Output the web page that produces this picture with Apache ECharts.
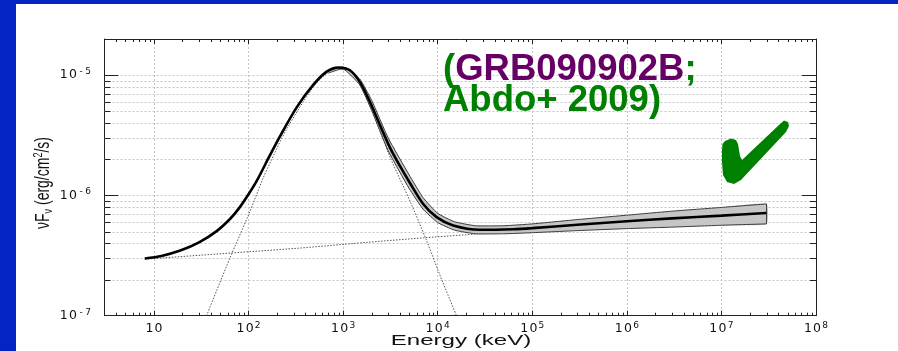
<!DOCTYPE html>
<html>
<head>
<meta charset="utf-8">
<script src="https://cdn.jsdelivr.net/npm/echarts@6/dist/echarts.min.js"></script>
<style>
  html, body { margin: 0; padding: 0; background: #fff; }
  #wrap { position: relative; width: 898px; height: 351px; overflow: hidden; background: #fff; }
  #chart { position: absolute; left: 0; top: 0; width: 898px; height: 351px; }
  .band { position: absolute; background: #0424c4; }
</style>
</head>
<body>
<div id="wrap">
  <div id="chart"></div>
  <div class="band" style="left:0;top:0;width:898px;height:4px"></div>
  <div class="band" style="left:0;top:0;width:16px;height:351px"></div>
</div>
<script>
// Energy axis (keV) and flux axis (erg/cm^2/s) limits
const energyMin = 3, energyMax = 1e8;
const fluxMin = 1e-7, fluxMax = 2e-5;

// Total model: Band function + extra power law
const totalEnergy = [8, 12, 19, 30, 46, 64, 81, 103, 122, 168, 215, 323, 483, 670, 890, 1180, 1500, 1920, 2450, 3130, 4000, 5090, 7030, 9740, 14600, 27900, 62800, 1e5, 3e5, 1e6, 3e6, 1e7, 3e7];
const totalFlux = [2.99e-7, 3.14e-7, 3.48e-7, 4.07e-7, 5.05e-7, 6.4e-7, 8.0e-7, 1.06e-6, 1.32e-6, 2.15e-6, 3.1e-6, 5.4e-6, 8.3e-6, 1.07e-5, 1.16e-5, 1.10e-5, 8.8e-6, 6.0e-6, 3.85e-6, 2.5e-6, 1.75e-6, 1.27e-6, 8.5e-7, 6.6e-7, 5.62e-7, 5.18e-7, 5.24e-7, 5.35e-7, 5.7e-7, 6.1e-7, 6.45e-7, 6.8e-7, 7.15e-7];

// Band component alone
const bandEnergy = [36, 64, 100, 143, 168, 250, 480, 670, 890, 1180, 1500, 1920, 2450, 3120, 5090, 7640, 10500, 15800];
const bandFlux = [1.0e-7, 3.06e-7, 6.9e-7, 1.4e-6, 1.85e-6, 3.5e-6, 7.9e-6, 1.03e-5, 1.12e-5, 1.06e-5, 8.4e-6, 5.6e-6, 3.45e-6, 2.1e-6, 9.0e-7, 4.2e-7, 2.2e-7, 1.0e-7];

// Power-law component alone
const plEnergy = [8, 350, 2450, 7030, 3e7];
const plFlux = [2.95e-7, 3.65e-7, 4.16e-7, 4.44e-7, 7.15e-7];

// Confidence region of the total model
const confEnergy = [700, 1000, 1500, 2000, 3000, 5000, 7000, 1e4, 1.5e4, 2.5e4, 5e4, 1e5, 3e5, 1e6, 3e6, 1e7, 3e7];
const confUpper = [1.08e-5, 1.17e-5, 9.3e-6, 6.2e-6, 3.0e-6, 1.48e-6, 9.6e-7, 7.1e-7, 6.05e-7, 5.6e-7, 5.6e-7, 5.8e-7, 6.3e-7, 6.85e-7, 7.4e-7, 7.95e-7, 8.5e-7];
const confLower = [1.04e-5, 1.13e-5, 8.3e-6, 5.1e-6, 2.35e-6, 1.14e-6, 7.7e-7, 5.95e-7, 5.15e-7, 4.8e-7, 4.8e-7, 4.9e-7, 5.1e-7, 5.3e-7, 5.45e-7, 5.65e-7, 5.8e-7];

// Minor tick positions (2..9 within each decade)
const xMinorTicks = [];
for (let k = 0; k < 8; k++) for (let m = 2; m <= 9; m++) {
  const v = m * Math.pow(10, k);
  if (v > energyMin && v < energyMax) xMinorTicks.push(v);
}
const yMinorTicks = [];
for (let k = -7; k <= -5; k++) for (let m = 2; m <= 9; m++) {
  const v = m * Math.pow(10, k);
  if (v > fluxMin * 1.0001 && v < fluxMax * 0.9999) yMinorTicks.push(v);
}

const zip = (a, b) => a.map((v, i) => [v, b[i]]);
const AX = '#222';
const GRID = '#c4c4c4';

// "10" followed by a superscript exponent, one token per character
function powerLabel(v) {
  const e = Math.log10(v);
  const r = Math.round(e);
  if (Math.abs(e - r) > 1e-6) return '';
  let txt = '{d|1}{d|0}';
  if (r !== 1) String(r).split('').forEach(c => { txt += '{s|' + c + '}'; });
  return txt;
}
const labelRich = {
  d: { fontFamily: 'DejaVu Sans', fontSize: 12.5, width: 9.2, align: 'center', color: '#111', lineHeight: 16 },
  s: { fontFamily: 'DejaVu Sans', fontSize: 9, width: 7, align: 'center', color: '#111', lineHeight: 9, verticalAlign: 'top' }
};

const chart = echarts.init(document.getElementById('chart'), null, { renderer: 'canvas' });

const option = {
  animation: false,
  backgroundColor: 'transparent',
  grid: { left: 104.5, top: 39, right: 82, bottom: 35.3, containLabel: false, outerBoundsMode: 'none' },
  xAxis: [
    {
      type: 'log', logBase: 10, min: energyMin, max: energyMax, position: 'bottom',
      axisLine: { lineStyle: { color: AX, width: 1 } },
      axisTick: { inside: true, length: 5, lineStyle: { color: AX } },
      axisLabel: { formatter: powerLabel, rich: labelRich, margin: 5, showMinLabel: false },
      splitLine: { show: true, lineStyle: { color: GRID, type: [2, 2], width: 1 } }
    },
    {
      type: 'log', logBase: 10, min: energyMin, max: energyMax, position: 'top',
      axisLine: { lineStyle: { color: AX, width: 1 } },
      axisTick: { inside: true, length: 5, lineStyle: { color: AX } },
      axisLabel: { show: false }, splitLine: { show: false }
    }
  ],
  yAxis: [
    {
      type: 'log', logBase: 10, min: fluxMin, max: fluxMax, position: 'left',
      axisLine: { lineStyle: { color: AX, width: 1 } },
      axisTick: { inside: true, length: 14, lineStyle: { color: AX } },
      axisLabel: { formatter: powerLabel, rich: labelRich, margin: 13, showMaxLabel: false },
      splitLine: { show: true, lineStyle: { color: GRID, type: [2, 2], width: 1 } }
    },
    {
      type: 'log', logBase: 10, min: fluxMin, max: fluxMax, position: 'right',
      axisLine: { lineStyle: { color: AX, width: 1 } },
      axisTick: { inside: true, length: 14, lineStyle: { color: AX } },
      axisLabel: { show: false }, splitLine: { show: false }
    }
  ],
  series: [
    // minor grid lines and ticks on the flux axis
    {
      type: 'custom', xAxisIndex: 0, yAxisIndex: 0, silent: true, z: 1,
      data: yMinorTicks.map(v => [energyMin, v]),
      renderItem: (params, api) => {
        const v = api.value(1);
        const l = api.coord([energyMin, v]);
        const r = api.coord([energyMax, v]);
        const y = Math.round(l[1]) + 0.5;
        return {
          type: 'group', children: [
            { type: 'line', shape: { x1: l[0], y1: y, x2: r[0], y2: y }, style: { stroke: GRID, lineWidth: 1, lineDash: [2, 2] } },
            { type: 'line', shape: { x1: l[0], y1: y, x2: l[0] + 6, y2: y }, style: { stroke: AX, lineWidth: 1 } },
            { type: 'line', shape: { x1: r[0] - 6, y1: y, x2: r[0], y2: y }, style: { stroke: AX, lineWidth: 1 } }
          ]
        };
      }
    },
    // minor ticks on the energy axis
    {
      type: 'custom', xAxisIndex: 0, yAxisIndex: 0, silent: true, z: 1,
      data: xMinorTicks.map(v => [v, fluxMin]),
      renderItem: (params, api) => {
        const v = api.value(0);
        const b = api.coord([v, fluxMin]);
        const t = api.coord([v, fluxMax]);
        const x = Math.round(b[0]) + 0.5;
        return {
          type: 'group', children: [
            { type: 'line', shape: { x1: x, y1: b[1], x2: x, y2: b[1] - 3 }, style: { stroke: AX, lineWidth: 1 } },
            { type: 'line', shape: { x1: x, y1: t[1], x2: x, y2: t[1] + 3 }, style: { stroke: AX, lineWidth: 1 } }
          ]
        };
      }
    },
    // power-law component
    {
      type: 'line', xAxisIndex: 0, yAxisIndex: 0, data: zip(plEnergy, plFlux),
      symbol: 'none', silent: true, z: 2,
      lineStyle: { color: '#555', width: 1, type: [1.5, 1.5] }
    },
    // Band component
    {
      type: 'line', xAxisIndex: 0, yAxisIndex: 0, data: zip(bandEnergy, bandFlux),
      symbol: 'none', smooth: 0.3, silent: true, z: 2,
      lineStyle: { color: '#555', width: 1, type: [1.5, 1.5] }
    },
    // confidence region: filled area, smoothed edges and a straight closing edge
    {
      type: 'custom', xAxisIndex: 0, yAxisIndex: 0, silent: true, z: 3,
      data: [[confEnergy[0], confUpper[0]]],
      renderItem: (params, api) => {
        const up = confEnergy.map((e, i) => api.coord([e, confUpper[i]]));
        const lo = confEnergy.map((e, i) => api.coord([e, confLower[i]]));
        const last = confEnergy.length - 1;
        const edge = { stroke: '#3a3a3a', lineWidth: 1, fill: null };
        return {
          type: 'group', children: [
            { type: 'polygon', shape: { points: up.concat(lo.slice().reverse()), smooth: 0.15 }, style: { fill: '#c6c6c6' } },
            { type: 'polyline', shape: { points: up, smooth: 0.15 }, style: edge },
            { type: 'polyline', shape: { points: lo, smooth: 0.15 }, style: edge },
            { type: 'line', shape: { x1: up[last][0], y1: up[last][1], x2: lo[last][0], y2: lo[last][1] }, style: edge }
          ]
        };
      }
    },
    // total model
    {
      type: 'line', xAxisIndex: 0, yAxisIndex: 0, data: zip(totalEnergy, totalFlux),
      symbol: 'none', smooth: 0.3, silent: true, z: 5,
      lineStyle: { color: '#000', width: 2.6 }
    }
  ],
  graphic: [
    // axis titles
    {
      type: 'text', x: 461, y: 341, scaleX: 1.72, z: 10,
      style: {
        text: 'Energy (keV)', align: 'center', verticalAlign: 'middle',
        fill: '#111', font: '14px "Liberation Sans"'
      }
    },
    {
      type: 'text', x: 43, y: 183, rotation: Math.PI / 2, scaleY: 1.45, z: 10,
      style: {
        text: '{a|νF}{b|ν}{a| (erg/cm}{c|2}{a|/s)}', align: 'center', verticalAlign: 'middle',
        rich: {
          a: { fill: '#111', fontFamily: 'Liberation Sans', fontSize: 14, lineHeight: 16 },
          b: { fill: '#111', fontFamily: 'Liberation Sans', fontSize: 9, lineHeight: 9, verticalAlign: 'bottom' },
          c: { fill: '#111', fontFamily: 'Liberation Sans', fontSize: 9, lineHeight: 9, verticalAlign: 'top' }
        }
      }
    },
    // annotation
    {
      type: 'text', x: 443, y: 69.5, z: 10,
      style: {
        text: '{g|(}{p|GRB090902B}{g|;}', align: 'left', verticalAlign: 'middle',
        rich: {
          g: { fill: '#008000', fontFamily: 'Liberation Sans', fontWeight: 'bold', fontSize: 36.5 },
          p: { fill: '#660066', fontFamily: 'Liberation Sans', fontWeight: 'bold', fontSize: 36.5 }
        }
      }
    },
    {
      type: 'text', x: 443, y: 100.5, z: 10,
      style: {
        text: 'Abdo+ 2009)', align: 'left', verticalAlign: 'middle',
        fill: '#008000', font: 'bold 36.5px "Liberation Sans"'
      }
    },
    {
      type: 'polygon', z: 10,
      shape: {
        points: [[725, 141], [731, 138.5], [736, 140], [738, 144], [740, 156], [742, 160], [780, 124], [784, 120.5], [788, 122], [789, 126], [786, 132], [741, 180], [734, 184], [727, 182], [723, 175], [722, 162], [722, 150], [722.5, 144]]
      },
      style: { fill: '#008000' }
    }
  ]
};
chart.setOption(option);
</script>
</body>
</html>
